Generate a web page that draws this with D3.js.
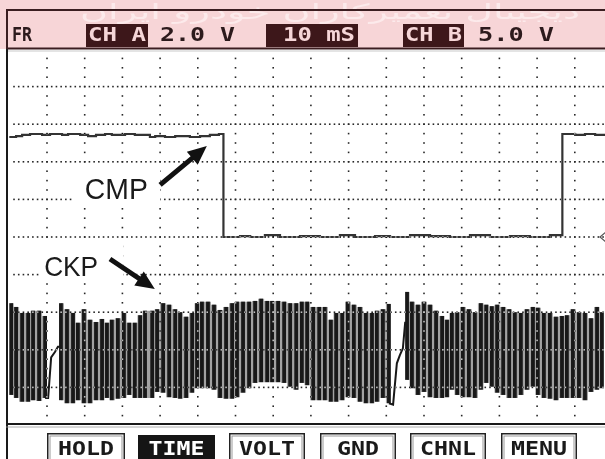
<!DOCTYPE html>
<html><head><meta charset="utf-8">
<script src="https://cdn.jsdelivr.net/npm/d3@7"></script>
<style>html,body{margin:0;padding:0;background:#fff;}svg{display:block;}</style>
</head><body>
<svg id="c" width="605" height="459"></svg>
<script>
// ---------------- data ----------------
const headerLabels = ["FR", "CH A", "2.0 V", "10 mS", "CH B", "5.0 V"];
const buttonLabels = ["HOLD", "TIME", "VOLT", "GND", "CHNL", "MENU"];
const activeButton = "TIME";
const watermark = "دیجیتال تعمیرکاران خودرو ایران";
const msPerDiv = 10, voltsPerDivA = 2, voltsPerDivB = 5;

// Channel A : CMP (time ms, volts)
const cmpTime = [0,1.8,3.4,5.5,8.7,10.8,14.0,15.6,18.8,20.9,23.0,25.4,27.2,30.7,33.3,37.3,38.7,41.3,44.0,47.9,50.6,53.2,55.6,
  56.8,61.2,63.9,67.8,71.8,77.1,82.4,87.7,91.7,97.0,101.0,106.3,111.6,116.9,122.2,127.5,132.8,138.1,143.4,
  146.7,150.1,152.7,155.4,160];
const cmpVolt = [5.32,5.37,5.43,5.48,5.43,5.48,5.43,5.48,5.43,5.37,5.43,5.48,5.43,5.48,5.43,5.32,5.37,5.32,5.37,5.32,5.37,5.43,5.48,
  0,0.05,0,0.1,0,0.05,0,0.1,0,0.05,0,0.1,0.05,0,0.1,0,0.05,0,0.1,
  5.48,5.43,5.48,5.43,5.43];

// Channel B : CKP teeth (time ms, peak volts, trough volts)
const ckpTime = [0.5,1.8,3.4,5.0,6.3,7.9,9.5,
  13.7,15.3,16.9,18.2,19.8,21.4,23.0,24.6,25.9,27.2,28.8,30.4,31.8,33.3,34.7,36.0,37.9,
  39.2,40.8,42.4,44.0,45.3,46.9,48.5,49.8,51.1,52.7,54.3,55.9,57.5,59.1,60.4,62.0,63.6,65.2,66.8,68.4,69.7,71.3,72.9,74.5,76.1,
  77.6,79.0,80.6,82.2,83.7,85.3,86.7,88.3,89.8,91.4,93.0,94.6,96.2,97.5,99.1,100.7,
  105.5,106.8,108.4,110.0,111.6,113.2,114.8,116.1,
  117.4,118.8,120.3,121.9,123.5,125.1,126.5,128.0,129.4,131.0,132.6,134.1,135.7,137.3,138.9,140.2,141.8,143.4,145.0,146.6,147.9,149.5,151.1,152.7,154.3,155.9,157.2];
const ckpHigh = [6.2,5.7,4.9,4.9,5.2,5.2,4.5,
  6.2,5.4,4.9,3.6,5.4,4.0,3.7,4.1,3.6,4.0,4.2,4.9,3.6,3.6,4.6,5.2,5.2,
  5.4,6.2,6.0,5.4,5.0,4.4,4.9,6.2,6.4,6.4,6.0,5.3,5.7,6.2,6.4,6.4,6.4,6.5,6.8,6.5,6.5,6.5,6.4,6.2,6.2,
  6.4,6.4,5.7,5.7,5.7,4.0,4.9,4.9,6.4,6.0,5.7,4.9,4.9,5.2,5.4,6.1,
  7.7,6.4,6.0,6.4,6.0,5.2,4.5,4.0,
  4.9,5.0,5.7,5.4,5.0,6.2,6.0,5.8,6.0,5.7,5.4,5.0,4.9,5.4,5.7,5.6,4.9,4.9,4.4,4.5,4.6,5.4,5.0,4.9,4.2,5.7,5.0];
const ckpLow = [-6.0,-6.4,-6.9,-6.9,-6.7,-6.8,-6.4,
  -6.7,-7.1,-7.1,-6.7,-7.1,-7.1,-6.7,-6.7,-6.4,-6.7,-6.5,-6.4,-6.0,-6.4,-6.4,-6.4,-6.4,
  -5.6,-5.7,-6.3,-6.4,-6.5,-6.4,-5.7,-5.1,-5.1,-5.1,-5.3,-6.4,-6.5,-6.5,-6.3,-5.7,-5.1,-4.4,-4.3,-4.3,-4.3,-4.3,-4.4,-4.9,-5.3,
  -4.4,-4.7,-6.7,-6.7,-6.7,-6.9,-6.9,-6.7,-6.3,-6.4,-6.9,-7.1,-7.1,-6.9,-6.4,-7.1,
  -4.0,-5.1,-6.0,-5.6,-6.3,-6.4,-6.4,-6.3,
  -5.3,-6.0,-6.3,-6.3,-6.4,-5.3,-4.4,-4.9,-5.7,-6.0,-6.4,-6.4,-6.0,-5.3,-4.9,-6.0,-6.4,-6.5,-6.7,-6.4,-6.4,-6.4,-6.4,-6.7,-5.6,-5.3,-5.1];
// missing-tooth ramps
const gapRamp1Time = [9.5,10.3,11.1,12.1,12.9,13.7];
const gapRamp1Volt = [-6.4,-6.4,-1.0,-0.3,0.4,0.4];
const gapRamp2Time = [100.7,101.8,102.8,103.6,104.4,105.0,105.5];
const gapRamp2Volt = [-7.1,-7.3,-1.8,-0.7,0.2,3.6,3.6];

// annotations (channel, label anchor time / volts, arrow tail, arrow tip)
const annLabels = ["CMP", "CKP"];
const annChannel = ["A", "B"];
const annTextT = [28.4, 16.4], annTextV = [2.02, 9.81];
const annTailT = [40.0, 26.7], annTailV = [2.77, 12.07];
const annTipT = [52.4, 38.6], annTipV = [4.84, 8.08];

// ---------------- layout ----------------
const W = 605, H = 459;
const plotLeft = 9.3, divX = 37.7, plotTop = 49, divY = 37.6, nDivY = 10;
const plotBottom = plotTop + nDivY * divY;
const x = d3.scaleLinear().domain([0, msPerDiv]).range([plotLeft, plotLeft + divX]);
const yA = d3.scaleLinear().domain([0, voltsPerDivA]).range([plotTop + 5 * divY, plotTop + 4 * divY]);
const yB = d3.scaleLinear().domain([0, voltsPerDivB]).range([plotTop + 8 * divY, plotTop + 7 * divY]);

const svg = d3.select("#c");
svg.append("rect").attr("width", W).attr("height", H).attr("fill", "#fff");

// ---------------- CKP trace ----------------
const ckp = ckpTime.map((t, i) => ({t, hi: ckpHigh[i], lo: ckpLow[i]}));
const segs = [];
ckp.forEach((d, i) => {
  if (i === 0 || d.t - ckp[i - 1].t > 3) segs.push([]);
  segs[segs.length - 1].push(d);
});
const area = d3.area().x(d => x(d.t)).y0(d => yB(d.lo)).y1(d => yB(d.hi)).curve(d3.curveStep);
svg.append("g").selectAll("path").data(segs).join("path")
  .attr("d", area).attr("fill", "#a2a2a2");
svg.append("g").selectAll("rect").data(ckp).join("rect")
  .attr("x", d => x(d.t) - 1.9).attr("width", 3.8)
  .attr("y", d => yB(d.hi)).attr("height", d => yB(d.lo) - yB(d.hi))
  .attr("fill", "#181818");
const rampLine = d3.line().x(d => x(d[0])).y(d => yB(d[1]));
[[gapRamp1Time, gapRamp1Volt], [gapRamp2Time, gapRamp2Volt]].forEach(([ts, vs]) => {
  svg.append("path").attr("d", rampLine(ts.map((t, i) => [t, vs[i]])))
    .attr("fill", "none").attr("stroke", "#181818").attr("stroke-width", 2);
});

// ---------------- CMP trace ----------------
const cmpLine = d3.line().x(d => x(d[0])).y(d => yA(d[1])).curve(d3.curveStepAfter);
svg.append("path").attr("d", cmpLine(cmpTime.map((t, i) => [t, cmpVolt[i]])))
  .attr("fill", "none").attr("stroke", "#333").attr("stroke-width", 2.2);

// ground marker channel A
const gy = yA(0);
svg.append("path").attr("d", `M${W - 5},${gy} L${W + 2},${gy - 6} L${W + 9},${gy} L${W + 2},${gy + 6} Z`)
  .attr("fill", "#fff").attr("stroke", "#555").attr("stroke-width", 1.2);

// ---------------- grid (XOR-like dots) ----------------
const grid = svg.append("g").style("mix-blend-mode", "difference");
const dot = (cx, cy) => grid.append("rect").attr("x", cx - 0.8).attr("y", cy - 0.8)
  .attr("width", 1.6).attr("height", 1.6).attr("fill", "#d8d8d8");
const vTimes = d3.range(msPerDiv, 160, msPerDiv);
const subV = d3.range(-9.5, 9.6, 0.5);
vTimes.forEach(t => subV.forEach(v => { const yy = yA(v); if (yy > plotTop + 2 && yy < plotBottom - 1) dot(x(t), yy); }));
const hVolts = d3.range(-8, 8.1, 2);
const subT = d3.range(0, 160, msPerDiv / 8);
hVolts.forEach(v => subT.forEach(t => { if (x(t) > plotLeft + 2 && x(t) < W) dot(x(t), yA(v)); }));

// ---------------- annotations ----------------
function arrowPts(x1, y1, x2, y2, w, hl, hw) {
  const dx = x2 - x1, dy = y2 - y1, L = Math.hypot(dx, dy), ux = dx / L, uy = dy / L, px = -uy, py = ux;
  const bx = x2 - ux * hl, by = y2 - uy * hl;
  return [[x1 + px * w / 2, y1 + py * w / 2], [bx + px * w / 2, by + py * w / 2], [bx + px * hw / 2, by + py * hw / 2],
    [x2, y2], [bx - px * hw / 2, by - py * hw / 2], [bx - px * w / 2, by - py * w / 2], [x1 - px * w / 2, y1 - py * w / 2]];
}
const boxPad = [[-44, 44, -31, 4], [-32, 52, -33, 7]];
const fontSz = [30, 28], textLen = [63, 54];
annLabels.forEach((lab, i) => {
  const ys = annChannel[i] === "A" ? yA : yB;
  const tx = x(annTextT[i]), ty = ys(annTextV[i]);
  const p = boxPad[i];
  svg.append("rect").attr("x", tx + p[0]).attr("y", ty + p[2]).attr("width", p[1] - p[0]).attr("height", p[3] - p[2]).attr("fill", "#fff");
  svg.append("text").attr("x", tx).attr("y", ty).attr("text-anchor", "middle")
    .attr("font-family", "Liberation Sans, Arial, sans-serif").attr("font-size", fontSz[i])
    .attr("textLength", textLen[i]).attr("lengthAdjust", "spacingAndGlyphs")
    .attr("fill", "#1a1a1a").text(lab);
  const pts = arrowPts(x(annTailT[i]), ys(annTailV[i]), x(annTipT[i]), ys(annTipV[i]), 5, 19, 17);
  svg.append("polygon").attr("points", pts.map(p => p.join(",")).join(" ")).attr("fill", "#111");
});

// ---------------- header ----------------
const hdr = svg.append("g");
hdr.append("rect").attr("x", 0).attr("y", 0).attr("width", W).attr("height", plotTop).attr("fill", "#f7d5d7");
hdr.append("text").attr("x", 330).attr("y", 19).attr("text-anchor", "middle")
  .attr("direction", "rtl").attr("font-family", "DejaVu Sans, sans-serif").attr("font-size", 21)
  .attr("textLength", 500).attr("lengthAdjust", "spacingAndGlyphs")
  .attr("fill", "#fdeeef").attr("opacity", 0.85).text(watermark);
hdr.append("line").attr("x1", 6).attr("x2", W).attr("y1", 10).attr("y2", 10).attr("stroke", "#3b1d20").attr("stroke-width", 2);
const hdrLayout = [[12, 32, null], [88, 146, [86, 148]], [160, 235, null], [283, 355, [266, 358]], [405, 462, [403, 464]], [478, 554, null]];
headerLabels.forEach((lab, i) => {
  const [x0, x1, box] = hdrLayout[i];
  if (box) hdr.append("rect").attr("x", box[0]).attr("y", 24).attr("width", box[1] - box[0]).attr("height", 23).attr("fill", "#3d171a");
  hdr.append("text").attr("x", x0).attr("y", 41)
    .attr("font-family", "DejaVu Sans Mono, monospace").attr("font-weight", "bold").attr("font-size", 20)
    .attr("textLength", x1 - x0).attr("lengthAdjust", "spacingAndGlyphs")
    .attr("fill", box ? "#f6d6d8" : "#2c1a1c").text(lab);
});
hdr.append("line").attr("x1", 6).attr("x2", W).attr("y1", 48.5).attr("y2", 48.5).attr("stroke", "#3b1d20").attr("stroke-width", 2);
hdr.append("line").attr("x1", 6).attr("x2", W).attr("y1", 51).attr("y2", 51).attr("stroke", "#bbb").attr("stroke-width", 0.8);

// left border
svg.append("line").attr("x1", 7).attr("x2", 7).attr("y1", 9).attr("y2", 49).attr("stroke", "#3b1d20").attr("stroke-width", 2);
svg.append("line").attr("x1", 7).attr("x2", 7).attr("y1", 49).attr("y2", H).attr("stroke", "#1a1a1a").attr("stroke-width", 2);

// bottom separator
svg.append("line").attr("x1", 6).attr("x2", W).attr("y1", plotBottom - 1).attr("y2", plotBottom - 1).attr("stroke", "#1a1a1a").attr("stroke-width", 2);
svg.append("line").attr("x1", 6).attr("x2", W).attr("y1", plotBottom + 2).attr("y2", plotBottom + 2).attr("stroke", "#999").attr("stroke-width", 0.8);

// ---------------- buttons ----------------
const btnLayout = [[47, 125], [138, 215], [229, 305], [320, 396], [410, 486], [501, 577]];
buttonLabels.forEach((lab, i) => {
  const [b0, b1] = btnLayout[i];
  const act = lab === activeButton;
  if (act) {
    svg.append("rect").attr("x", b0).attr("y", 435).attr("width", b1 - b0).attr("height", 30).attr("fill", "#151515");
  } else {
    svg.append("rect").attr("x", b0 + 0.75).attr("y", 433.75).attr("width", b1 - b0 - 1.5).attr("height", 30).attr("fill", "#fff").attr("stroke", "#222").attr("stroke-width", 1.5);
    svg.append("rect").attr("x", b0 + 3).attr("y", 436).attr("width", b1 - b0 - 6).attr("height", 30).attr("fill", "none").attr("stroke", "#999").attr("stroke-width", 1);
  }
  const tl = lab.length === 3 ? 42 : 56;
  svg.append("text").attr("x", (b0 + b1) / 2 - tl / 2).attr("y", 455)
    .attr("font-family", "DejaVu Sans Mono, monospace").attr("font-weight", "bold").attr("font-size", 19.5)
    .attr("textLength", tl).attr("lengthAdjust", "spacingAndGlyphs")
    .attr("fill", act ? "#fff" : "#1a1a1a").text(lab);
});
</script>
</body></html>
